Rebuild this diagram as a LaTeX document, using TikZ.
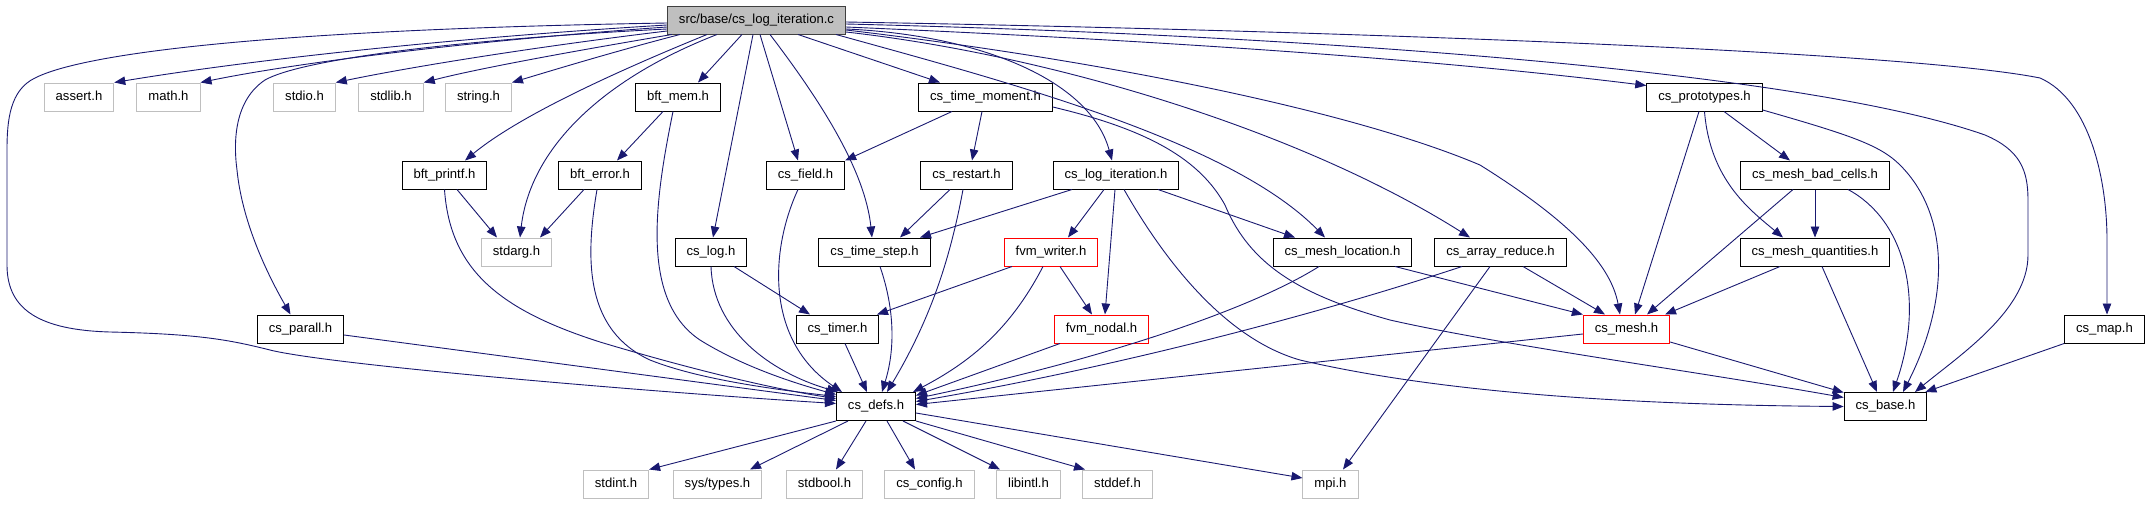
\documentclass[tikz,border=0pt]{standalone}
\usepackage{fontspec}
\setmainfont{Liberation Sans}
\usetikzlibrary{arrows.meta}
\definecolor{edgeblue}{HTML}{191970}
\definecolor{sysgray}{HTML}{BFBFBF}
\definecolor{rootgray}{HTML}{404040}
\begin{document}
\begin{tikzpicture}[x=1pt, y=-1pt,
    hdr/.style={draw=black, line width=1pt, minimum height=28pt, inner xsep=11.5pt, inner ysep=0pt, text height=9.6pt, text depth=2.7pt, font=\fontsize{13.1}{15}\selectfont},
    syshdr/.style={hdr, draw=sysgray},
    redhdr/.style={hdr, draw=red},
    roothdr/.style={hdr, draw=rootgray, fill=sysgray},
    dep/.style={draw=edgeblue, line width=0.9pt, -{Triangle[length=11pt, width=8.5pt]}}]
            \useasboundingbox (0,0) rectangle (2148,504);
            \node[roothdr] (root) at (756.5,20) {src/base/cs\_log\_iteration.c};
            \node[syshdr] (assertH) at (79,97) {assert.h};
            \node[syshdr] (mathH) at (168.5,97) {math.h};
            \node[syshdr] (stdioH) at (304.5,97) {stdio.h};
            \node[syshdr] (stdlibH) at (391,97) {stdlib.h};
            \node[syshdr] (stringH) at (478.5,97) {string.h};
            \node[hdr] (bftMem) at (678,97) {bft\_mem.h};
            \node[hdr] (timeMoment) at (985.5,97) {cs\_time\_moment.h};
            \node[hdr] (prototypes) at (1704.5,97) {cs\_prototypes.h};
            \node[hdr] (bftPrintf) at (444.5,175) {bft\_printf.h};
            \node[hdr] (bftError) at (600,175) {bft\_error.h};
            \node[hdr] (field) at (805.5,175) {cs\_field.h};
            \node[hdr] (restart) at (966.5,175) {cs\_restart.h};
            \node[hdr] (logIter) at (1116,175) {cs\_log\_iteration.h};
            \node[hdr] (badCells) at (1815,175) {cs\_mesh\_bad\_cells.h};
            \node[syshdr] (stdargH) at (516.5,252) {stdarg.h};
            \node[hdr] (logH) at (711,252) {cs\_log.h};
            \node[hdr] (timeStep) at (874.5,252) {cs\_time\_step.h};
            \node[redhdr] (fvmWriter) at (1051,252) {fvm\_writer.h};
            \node[hdr] (meshLoc) at (1342.5,252) {cs\_mesh\_location.h};
            \node[hdr] (arrayReduce) at (1500.5,252) {cs\_array\_reduce.h};
            \node[hdr] (meshQuant) at (1815,252) {cs\_mesh\_quantities.h};
            \node[hdr] (parall) at (300.5,329) {cs\_parall.h};
            \node[hdr] (timer) at (837.5,329) {cs\_timer.h};
            \node[redhdr] (fvmNodal) at (1101.5,329) {fvm\_nodal.h};
            \node[redhdr] (mesh) at (1626.5,329) {cs\_mesh.h};
            \node[hdr] (mapH) at (2104.5,329) {cs\_map.h};
            \node[hdr] (defs) at (876,406.5) {cs\_defs.h};
            \node[hdr] (base) at (1885.5,406.5) {cs\_base.h};
            \node[syshdr] (stdintH) at (616,484) {stdint.h};
            \node[syshdr] (sysTypes) at (717.5,484) {sys/types.h};
            \node[syshdr] (stdboolH) at (824.5,484) {stdbool.h};
            \node[syshdr] (config) at (929.5,484) {cs\_config.h};
            \node[syshdr] (libintlH) at (1028.5,484) {libintl.h};
            \node[syshdr] (stddefH) at (1117.5,484) {stddef.h};
            \node[syshdr] (mpiH) at (1330.5,484) {mpi.h};
            \draw[dep] ([yshift=-3pt]root.west) .. controls (250,30) and (80,55) .. (35,78) .. controls (10,90) and (7,120) .. (7,150) -- (7,265) .. controls (7,310) and (40,330) .. (110,332) .. controls (200,334) and (230,340) .. (270,350) .. controls (330,365) and (650,392) .. ([yshift=3pt]defs.west);
            \draw[dep] ([yshift=-5pt]root.west) .. controls (450,38) and (250,60) .. (assertH.north east);
            \draw[dep] ([yshift=-7pt]root.west) .. controls (480,40) and (300,62) .. (mathH.north east);
            \draw[dep] ([yshift=-9pt]root.west) .. controls (450,40) and (300,60) .. (265,80) .. controls (235,100) and (233,140) .. (237,170) .. controls (242,220) and (265,270) .. ([xshift=-10pt]parall.north);
            \draw[dep] ([yshift=-11pt]root.west) .. controls (550,45) and (420,65) .. (stdioH.north east);
            \draw[dep] ([xshift=5pt]root.south west) .. controls (580,50) and (480,68) .. (stdlibH.north east);
            \draw[dep] ([xshift=13pt]root.south west) .. controls (620,50) and (560,68) .. (stringH.north east);
            \draw[dep] ([xshift=-49.5pt]root.south) .. controls (620,70) and (520,115) .. ([xshift=20.5pt]bftPrintf.north);
            \draw[dep] ([xshift=-39.5pt]root.south) .. controls (600,80) and (530,150) .. ([xshift=3.5pt]stdargH.north);
            \draw[dep] ([xshift=-14.5pt]root.south) -- ([xshift=20pt]bftMem.north);
            \draw[dep] ([xshift=-3.5pt]root.south) -- ([xshift=2pt]logH.north);
            \draw[dep] ([xshift=3.5pt]root.south) -- ([xshift=-7.5pt]field.north);
            \draw[dep] ([xshift=13.5pt]root.south) .. controls (820,100) and (865,170) .. ([xshift=-2.5pt]timeStep.north);
            \draw[dep] ([xshift=41.5pt]root.south) -- ([xshift=-45.5pt]timeMoment.north);
            \draw[dep] ([yshift=-9pt]root.east) .. controls (980,35) and (1090,80) .. ([xshift=-4pt]logIter.north);
            \draw[dep] ([xshift=-10pt]root.south east) .. controls (1000,80) and (1230,140) .. ([xshift=-17.5pt]meshLoc.north);
            \draw[dep] ([yshift=-12pt]root.east) .. controls (1050,55) and (1300,130) .. ([xshift=-30.5pt]arrayReduce.north);
            \draw[dep] ([yshift=-10pt]root.east) .. controls (1100,60) and (1350,110) .. (1480,165) .. controls (1560,215) and (1610,260) .. ([xshift=-6.5pt]mesh.north);
            \draw[dep] ([yshift=-7pt]root.east) .. controls (1100,38) and (1400,55) .. ([yshift=-3pt]prototypes.north west);
            \draw[dep] ([yshift=-4pt]root.east) .. controls (1300,35) and (1800,70) .. (1985,135) .. controls (2020,150) and (2028,170) .. (2028,200) -- (2028,255) .. controls (2028,310) and (1960,355) .. ([xshift=29.5pt]base.north);
            \draw[dep] ([yshift=-2pt]root.east) .. controls (1300,30) and (1900,50) .. (2040,78) .. controls (2090,100) and (2107,180) .. (2107,240) -- ([xshift=2.5pt]mapH.north);
            \draw[dep] ([xshift=12.5pt]bftPrintf.south) -- ([xshift=-19.5pt]stdargH.north);
            \draw[dep] (bftPrintf.south) .. controls (450,270) and (500,310) .. (600,342) .. controls (700,372) and (780,390) .. ([yshift=8pt]defs.west);
            \draw[dep] ([xshift=-15pt]bftMem.south) -- ([xshift=17pt]bftError.north);
            \draw[dep] ([xshift=-5pt]bftMem.south) .. controls (655,200) and (640,300) .. (700,340) .. controls (740,365) and (790,382) .. ([yshift=12pt]defs.west);
            \draw[dep] ([xshift=-16pt]bftError.south) -- ([xshift=23.5pt]stdargH.north);
            \draw[dep] ([xshift=-3pt]bftError.south) .. controls (585,260) and (585,330) .. (650,360) .. controls (700,380) and (780,390) .. ([yshift=10pt]defs.west);
            \draw[dep] ([yshift=-6pt]parall.east) -- ([yshift=6pt]defs.west);
            \draw[dep] ([xshift=23pt]logH.south) -- ([xshift=-27.5pt]timer.north);
            \draw[dep] (logH.south) .. controls (713,330) and (770,372) .. ([xshift=2pt]defs.north west);
            \draw[dep] ([xshift=-7.5pt]field.south) .. controls (770,250) and (765,340) .. ([xshift=6pt]defs.north west);
            \draw[dep] ([xshift=7.5pt]timer.south) -- ([xshift=-9pt]defs.north);
            \draw[dep] ([xshift=-33.5pt]timeMoment.south) -- (field.north east);
            \draw[dep] ([xshift=-3.5pt]timeMoment.south) -- ([xshift=5.5pt]restart.north);
            \draw[dep] ([yshift=-10pt]timeMoment.east) .. controls (1150,130) and (1200,160) .. (1225,205) .. controls (1250,265) and (1300,295) .. (1390,320) .. controls (1500,345) and (1700,372) .. ([yshift=9pt]base.west);
            \draw[dep] ([xshift=-16.5pt]restart.south) -- ([xshift=25.5pt]timeStep.north);
            \draw[dep] ([xshift=-3.5pt]restart.south) .. controls (950,260) and (930,320) .. ([xshift=11pt]defs.north);
            \draw[dep] ([xshift=5.5pt]timeStep.south) .. controls (895,310) and (895,350) .. ([xshift=6pt]defs.north);
            \draw[dep] ([xshift=-44pt]logIter.south) -- ([xshift=45.5pt]timeStep.north);
            \draw[dep] ([xshift=-12pt]logIter.south) -- ([xshift=17pt]fvmWriter.north);
            \draw[dep] ([xshift=-1pt]logIter.south) -- ([xshift=3.5pt]fvmNodal.north);
            \draw[dep] ([xshift=42pt]logIter.south) -- ([xshift=-47.5pt]meshLoc.north);
            \draw[dep] ([xshift=8pt]logIter.south) .. controls (1170,270) and (1230,340) .. (1300,360) .. controls (1450,395) and (1650,405) .. (base.west);
            \draw[dep] ([xshift=-39pt]fvmWriter.south) -- ([xshift=39.5pt]timer.north);
            \draw[dep] ([xshift=9pt]fvmWriter.south) -- ([xshift=-9.5pt]fvmNodal.north);
            \draw[dep] ([xshift=-8pt]fvmWriter.south) .. controls (1010,330) and (970,362) .. ([xshift=-3pt]defs.north east);
            \draw[dep] ([xshift=-41.5pt]fvmNodal.south) -- ([yshift=11pt]defs.east);
            \draw[dep] ([xshift=-23.5pt]meshLoc.south) .. controls (1250,310) and (1100,360) .. ([yshift=8pt]defs.east);
            \draw[dep] ([xshift=52.5pt]meshLoc.south) -- (mesh.north west);
            \draw[dep] ([xshift=-38.5pt]arrayReduce.south) .. controls (1300,320) and (1100,370) .. ([yshift=5pt]defs.east);
            \draw[dep] ([xshift=-10.5pt]arrayReduce.south) -- ([xshift=12.5pt]mpiH.north);
            \draw[dep] ([xshift=22.5pt]arrayReduce.south) -- ([xshift=-21.5pt]mesh.north);
            \draw[dep] ([xshift=-5.5pt]prototypes.south) -- ([xshift=8.5pt]mesh.north);
            \draw[dep] (prototypes.south) .. controls (1710,180) and (1750,210) .. ([xshift=-32pt]meshQuant.north);
            \draw[dep] ([xshift=19.5pt]prototypes.south) -- ([xshift=-25pt]badCells.north);
            \draw[dep] ([yshift=-13pt]prototypes.east) .. controls (1850,135) and (1880,145) .. (1900,165) .. controls (1950,215) and (1950,300) .. ([xshift=17.5pt]base.north);
            \draw[dep] (badCells.south) -- (meshQuant.north);
            \draw[dep] ([xshift=-22pt]badCells.south) -- ([xshift=20.5pt]mesh.north);
            \draw[dep] ([xshift=33pt]badCells.south) .. controls (1905,220) and (1925,300) .. ([xshift=7.5pt]base.north);
            \draw[dep] ([xshift=-35pt]meshQuant.south) -- ([xshift=38.5pt]mesh.north);
            \draw[dep] ([xshift=7pt]meshQuant.south) -- ([xshift=-8.5pt]base.north);
            \draw[dep] ([yshift=-5pt]mesh.west) -- ([yshift=2pt]defs.east);
            \draw[dep] ([yshift=-13pt]mesh.east) -- ([yshift=14pt]base.west);
            \draw[dep] (mapH.south west) -- ([xshift=-2pt]base.north east);
            \draw[dep] (defs.south west) -- (stdintH.north east);
            \draw[dep] ([xshift=-28pt]defs.south) -- ([xshift=32.5pt]sysTypes.north);
            \draw[dep] ([xshift=-10pt]defs.south) -- ([xshift=11.5pt]stdboolH.north);
            \draw[dep] ([xshift=11pt]defs.south) -- ([xshift=-14.5pt]config.north);
            \draw[dep] ([xshift=27pt]defs.south) -- ([xshift=-28.5pt]libintlH.north);
            \draw[dep] (defs.south east) -- ([xshift=-32.5pt]stddefH.north);
            \draw[dep] ([yshift=-6.5pt]defs.east) -- ([yshift=6pt]mpiH.west);
\end{tikzpicture}
\end{document}
